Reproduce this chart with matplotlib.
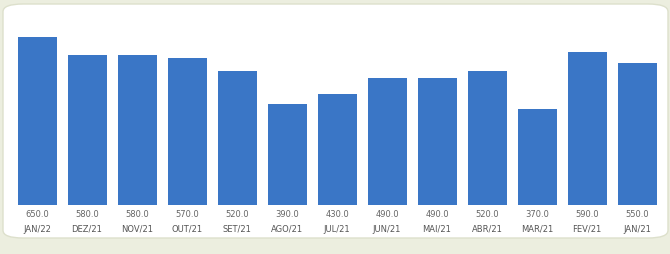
import matplotlib
matplotlib.use("Agg")
import matplotlib.pyplot as plt
from matplotlib.patches import FancyBboxPatch

months = ["JAN/22", "DEZ/21", "NOV/21", "OUT/21", "SET/21", "AGO/21", "JUL/21",
          "JUN/21", "MAI/21", "ABR/21", "MAR/21", "FEV/21", "JAN/21"]
values = [650, 580, 580, 570, 520, 390, 430, 490, 490, 520, 370, 590, 550]

W, H = 670, 254
fig = plt.figure(figsize=(W / 100, H / 100), dpi=100)
fig.patch.set_facecolor("#eceedf")

# white rounded panel behind the bars
panel = FancyBboxPatch((3 / W, 1 - 238 / H), 665 / W, 234 / H,
                       boxstyle="round,pad=0,rounding_size=0.03",
                       transform=fig.transFigure, facecolor="white",
                       edgecolor="#dde0cc", linewidth=1.0, zorder=-1)
fig.patches.append(panel)

ax = fig.add_axes([12 / W, 1 - 205 / H, 650 / W, 181 / H])
ax.set_zorder(2)
ax.set_facecolor("none")
x = range(len(values))
ax.bar(x, values, width=0.78, color="#3a76c6")
ax.set_xlim(-0.5, len(values) - 0.5)
ax.set_ylim(0, 700)
for s in ax.spines.values():
    s.set_visible(False)
ax.set_yticks([])
ax.set_xticks([])

for i, (m, v) in enumerate(zip(months, values)):
    ax.text(i, -0.03, f"{v:.1f}", transform=ax.get_xaxis_transform(),
            ha="center", va="top", fontsize=6, color="#666666")
    ax.text(i, -0.11, m, transform=ax.get_xaxis_transform(),
            ha="center", va="top", fontsize=6, color="#555555")

fig.savefig("out.png", dpi=100, facecolor=fig.get_facecolor())
